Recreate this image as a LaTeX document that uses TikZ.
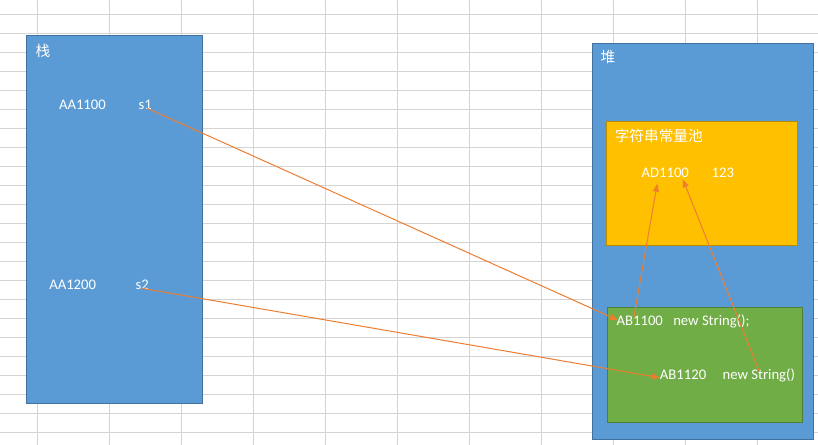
\documentclass[tikz,border=0pt]{standalone}
\usepackage{fontspec}
\setmainfont{Carlito}
\newfontfamily\cjk{Noto Sans CJK SC}
\usetikzlibrary{arrows.meta,calc}
\definecolor{boxblue}{HTML}{5B9BD5}
\definecolor{blueedge}{HTML}{41719C}
\definecolor{boxyellow}{HTML}{FFC000}
\definecolor{yellowedge}{HTML}{BC8C00}
\definecolor{boxgreen}{HTML}{70AD47}
\definecolor{greenedge}{HTML}{507E32}
\definecolor{arrorange}{HTML}{ED7D31}
\definecolor{gridgray}{HTML}{D4D4D4}
\begin{document}
\begin{tikzpicture}[x=0.75pt,y=-0.75pt,
  gridline/.style={draw=gridgray,line width=0.75pt},
  region/.style={rectangle,inner sep=0pt,anchor=north west,line width=0.75pt},
  bluebox/.style={region,fill=boxblue,draw=blueedge},
  yellowbox/.style={region,fill=boxyellow,draw=yellowedge},
  greenbox/.style={region,fill=boxgreen,draw=greenedge},
  lbl/.style={text=white,inner sep=0pt,font=\fontsize{11pt}{13pt}\selectfont,anchor=base west},
  cjklbl/.style={text=white,inner sep=0pt,font=\cjk\fontsize{11pt}{13pt}\selectfont},
  ref/.style={draw=arrorange,line width=0.75pt,-{Triangle[length=6pt,width=4.5pt]}}]
\useasboundingbox (0,0) rectangle (818,445);
\fill[white] (0,0) rectangle (818,445);
% spreadsheet grid
\foreach \i in {0,...,22} \draw[gridline] (0,{14.3+19*\i}) -- (818,{14.3+19*\i});
\foreach \x in {37,109,181,253,325,397,469,541,613,685,757} \draw[gridline] (\x,0) -- (\x,445);
% regions
\node[bluebox,minimum width={175.5*0.75pt},minimum height={368*0.75pt}] (stack) at (26,35.5) {};
\node[bluebox,minimum width={221.5*0.75pt},minimum height={395.5*0.75pt}] (heap) at (591.8,43.3) {};
\node[yellowbox,minimum width={191.5*0.75pt},minimum height={123.7*0.75pt}] (pool) at (605.8,121.3) {};
\node[greenbox,minimum width={194.3*0.75pt},minimum height={115*0.75pt}] (objs) at (607.3,307.3) {};
% titles
\node[cjklbl] (stacktitle) at (43,51) {栈};
\node[cjklbl] (heaptitle) at (608,57) {堆};
\node[cjklbl,anchor=west] (pooltitle) at (614.5,136) {字符串常量池};
% stack contents
\node[lbl] (aa1) at (58.8,110) {AA1100};
\node[lbl] (s1) at (138.3,110) {s1};
\node[lbl] (aa2) at (49,289.3) {AA1200};
\node[lbl] (s2) at (135.4,289.3) {s2};
% pool contents
\node[lbl] (ad) at (641.4,178) {AD1100};
\node[lbl] (v123) at (711.4,178) {123};
% heap objects
\node[lbl] (ab1) at (616.4,326) {AB1100};
\node[lbl] (ns1) at (673,326) {new String();};
\node[lbl] (ab2) at (659.7,380) {AB1120};
\node[lbl] (ns2) at (722.4,380) {new String()};
% references
\draw[ref] ([shift={(2,-1.7)}]s1.base) -- ([shift={(1.8,-1)}]ab1.west);
\draw[ref] ([shift={(0,-1)}]s2.base) -- ([shift={(0,2.4)}]ab2.west);
\draw[ref] ([shift={(16.8,-0.5)}]ab1.west) -- ([shift={(-8,5.3)}]ad.south);
\draw[ref] ([shift={(0.5,2.7)}]ns2.north) -- ([shift={(-6.3,1)}]ad.south east);
\end{tikzpicture}
\end{document}
